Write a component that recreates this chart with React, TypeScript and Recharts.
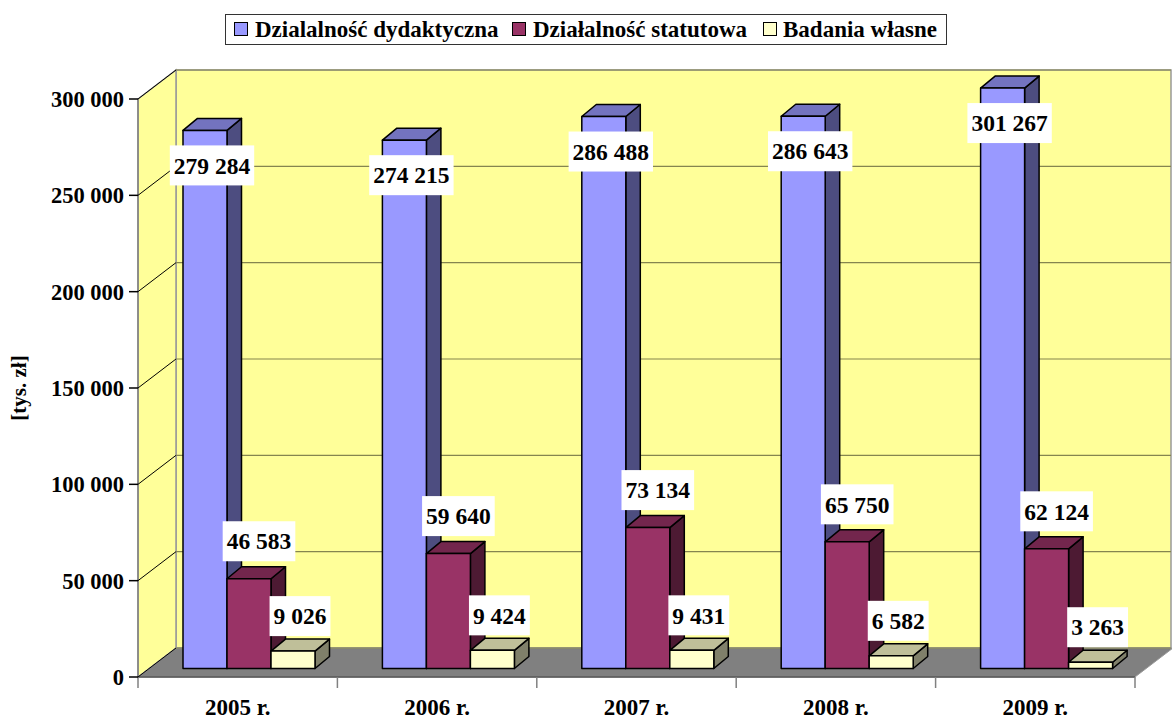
import React from "react";
import { BarChart, Bar, XAxis, YAxis, CartesianGrid, LabelList } from "recharts";

const years = ["2005 r.", "2006 r.", "2007 r.", "2008 r.", "2009 r."];
const dydaktyczna = [279284, 274215, 286488, 286643, 301267];
const statutowa = [46583, 59640, 73134, 65750, 62124];
const badania = [9026, 9424, 9431, 6582, 3263];
const yTicks = [0, 50000, 100000, 150000, 200000, 250000, 300000];
const seriesNames = ["Dzialalność dydaktyczna", "Działalność statutowa", "Badania własne"];

const data = years.map((year, i) => ({
  year,
  dyd: dydaktyczna[i],
  stat: statutowa[i],
  bad: badania[i],
}));

if (typeof document !== "undefined") {
  document.body.style.margin = "0";
}

// layout of the fake 3D box
const W = 1172;
const H = 718;
const LEFT = 138;
const RIGHT = 1135;
const BOTTOM = 677;
const FRONT_TOP = 99; // where 300 000 sits on the front plane
const Y_MAX = 330000;
const TOP = BOTTOM - ((BOTTOM - FRONT_TOP) * Y_MAX) / 300000;
const WALL_DX = 38;
const WALL_DY = 29;
const BAR_DX = 11;
const BAR_DY = 8.5;
const DEPTH_DX = 14.5;
const DEPTH_DY = 12;

const FONT = "'Liberation Serif', 'Times New Roman', serif";

const fmt = (v: number) => String(v).replace(/\B(?=(\d{3})+(?!\d))/g, " ");
const textWidth = (s: string, size: number) =>
  s.split("").reduce((a, c) => a + (c === " " ? 0.25 : 0.5), 0) * size;

const makeShape = (front: string, top: string, side: string) => (props: any) => {
  const { x, y, width, height } = props;
  if (width == null || height == null) return <g />;
  const fx = x + BAR_DX;
  const fy = y - BAR_DY;
  const w = width;
  const h = height;
  const st = { stroke: "#000", strokeWidth: 1.5, strokeLinejoin: "round" as const };
  return (
    <g>
      <polygon
        points={`${fx + w},${fy} ${fx + w + DEPTH_DX},${fy - DEPTH_DY} ${fx + w + DEPTH_DX},${fy + h - DEPTH_DY} ${fx + w},${fy + h}`}
        fill={side}
        {...st}
      />
      <polygon
        points={`${fx},${fy} ${fx + DEPTH_DX},${fy - DEPTH_DY} ${fx + w + DEPTH_DX},${fy - DEPTH_DY} ${fx + w},${fy}`}
        fill={top}
        {...st}
      />
      <rect x={fx} y={fy} width={w} height={h} fill={front} {...st} />
    </g>
  );
};

const makeLabel = (dx: number, dy: number) => (props: any) => {
  const { x, y, width, value } = props;
  const cx = Number(x) + BAR_DX + Number(width) / 2 + dx;
  const cy = Number(y) - BAR_DY + dy;
  const text = fmt(Number(value));
  const w = textWidth(text, 23.5) + 8;
  return (
    <g>
      <rect x={cx - w / 2} y={cy - 20} width={w} height={40} fill="#fff" />
      <text
        x={cx}
        y={cy}
        dy="0.35em"
        textAnchor="middle"
        fontFamily={FONT}
        fontWeight="bold"
        fontSize={23.5}
        fill="#000"
      >
        {text}
      </text>
    </g>
  );
};

const GridLine = (props: any) => {
  const y = Number(props.y1);
  if (y < FRONT_TOP - 1) return <g />;
  return (
    <g>
      <line x1={LEFT} y1={y} x2={LEFT + WALL_DX} y2={y - WALL_DY} stroke="#000" strokeWidth={1} />
      <line x1={LEFT + WALL_DX} y1={y - WALL_DY} x2={W - 1} y2={y - WALL_DY} stroke="#85854f" strokeWidth={1.2} />
    </g>
  );
};

const XTick = (props: any) => (
  <text
    x={props.x}
    y={props.y + 38}
    textAnchor="middle"
    fontFamily={FONT}
    fontWeight="bold"
    fontSize={23}
    fill="#000"
  >
    {props.payload.value}
  </text>
);

const legendItems = [
  { name: seriesNames[0], color: "#9999FF", box: 234, text: 255 },
  { name: seriesNames[1], color: "#993366", box: 512, text: 533 },
  { name: seriesNames[2], color: "#FFFFCC", box: 763, text: 783 },
];

export default function App() {
  const band = (RIGHT - LEFT) / years.length;
  return (
    <div style={{ position: "relative", width: W, height: H, background: "#fff", overflow: "hidden" }}>
      <svg width={W} height={H} style={{ position: "absolute", left: 0, top: 0 }}>
        {/* back wall */}
        <rect
          x={LEFT + WALL_DX}
          y={FRONT_TOP - WALL_DY}
          width={W - 1 - (LEFT + WALL_DX)}
          height={BOTTOM - FRONT_TOP}
          fill="#FFFF99"
          stroke="#999"
          strokeWidth={1.5}
        />
        {/* left wall */}
        <polygon
          points={`${LEFT},${FRONT_TOP} ${LEFT + WALL_DX},${FRONT_TOP - WALL_DY} ${LEFT + WALL_DX},${BOTTOM - WALL_DY} ${LEFT},${BOTTOM}`}
          fill="#FFFF99"
          stroke="#999"
          strokeWidth={1.5}
        />
        {/* floor */}
        <polygon
          points={`${LEFT},${BOTTOM} ${RIGHT},${BOTTOM} ${RIGHT + WALL_DX},${BOTTOM - WALL_DY} ${LEFT + WALL_DX},${BOTTOM - WALL_DY}`}
          fill="#808080"
          stroke="#999"
          strokeWidth={1}
        />
        <line x1={LEFT} y1={BOTTOM} x2={RIGHT} y2={BOTTOM} stroke="#555" strokeWidth={1.5} />
        <line x1={LEFT} y1={FRONT_TOP} x2={LEFT} y2={BOTTOM} stroke="#808080" strokeWidth={1.5} />
        {years.concat([""]).map((_, i) => (
          <line
            key={i}
            x1={LEFT + i * band}
            y1={BOTTOM}
            x2={LEFT + i * band}
            y2={BOTTOM + 11}
            stroke="#808080"
            strokeWidth={1.5}
          />
        ))}
        <text
          transform={`translate(26, ${(FRONT_TOP + BOTTOM) / 2}) rotate(-90)`}
          textAnchor="middle"
          fontFamily={FONT}
          fontWeight="bold"
          fontSize={21}
          fill="#000"
        >
          [tys. zł]
        </text>
      </svg>
      <div style={{ position: "absolute", left: 0, top: 0 }}>
        <BarChart
          width={W}
          height={H}
          data={data}
          margin={{ top: TOP, right: W - RIGHT, bottom: 1, left: 10 }}
          barGap={0}
          barSize={44}
        >
          <CartesianGrid vertical={false} horizontal={GridLine} />
          <XAxis
            dataKey="year"
            height={40}
            axisLine={false}
            tickLine={false}
            tickSize={0}
            tickMargin={0}
            interval={0}
            tick={XTick}
          />
          <YAxis
            width={128}
            domain={[0, Y_MAX]}
            ticks={yTicks}
            axisLine={false}
            tickSize={9}
            tickMargin={5}
            tickLine={{ stroke: "#000", strokeWidth: 1.5 }}
            tickFormatter={(v: number) => fmt(v)}
            tick={{ fontFamily: FONT, fontWeight: "bold", fontSize: 22.5, fill: "#000" }}
          />
          <Bar dataKey="dyd" isAnimationActive={false} shape={makeShape("#9999FF", "#7373BF", "#4D4D80")}>
            <LabelList dataKey="dyd" content={makeLabel(7, 35)} />
          </Bar>
          <Bar dataKey="stat" isAnimationActive={false} shape={makeShape("#993366", "#73264D", "#4D1A33")}>
            <LabelList dataKey="stat" content={makeLabel(10, -37.5)} />
          </Bar>
          <Bar dataKey="bad" isAnimationActive={false} shape={makeShape("#FFFFCC", "#BFBF99", "#80806A")}>
            <LabelList dataKey="bad" content={makeLabel(7, -35)} />
          </Bar>
        </BarChart>
      </div>
      <div
        style={{
          position: "absolute",
          left: 225,
          top: 14,
          width: 722,
          height: 31,
          border: "1px solid #333",
          background: "#fff",
          boxSizing: "border-box",
        }}
      />
      {legendItems.map((it) => (
        <React.Fragment key={it.name}>
          <div
            style={{
              position: "absolute",
              left: it.box,
              top: 22,
              width: 14,
              height: 14,
              background: it.color,
              border: "1.5px solid #000",
              boxSizing: "border-box",
            }}
          />
          <div
            style={{
              position: "absolute",
              left: it.text,
              top: 14,
              lineHeight: "31px",
              fontFamily: FONT,
              fontWeight: "bold",
              fontSize: 23,
              color: "#000",
              whiteSpace: "nowrap",
            }}
          >
            {it.name}
          </div>
        </React.Fragment>
      ))}
    </div>
  );
}
